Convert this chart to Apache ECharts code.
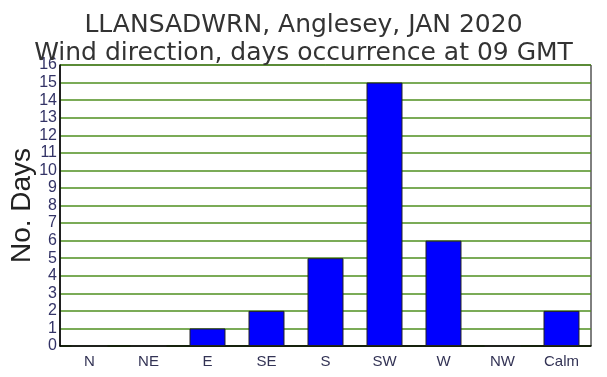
<!DOCTYPE html>
<html>
<head>
<meta charset="utf-8">
<script src="https://cdn.jsdelivr.net/npm/echarts@6/dist/echarts.min.js"></script>
<style>
  html, body { margin: 0; padding: 0; background: #fff; }
  #chart { width: 607px; height: 377px; }
</style>
</head>
<body>
<div id="chart"></div>
<script>
// wind direction categories and counts
var directions = ["N", "NE", "E", "SE", "S", "SW", "W", "NW", "Calm"];
var days = [0, 0, 1, 2, 5, 15, 6, 0, 2];
var titleLines = ["LLANSADWRN, Anglesey, JAN 2020", "Wind direction, days occurrence at 09 GMT"];

var chart = echarts.init(document.getElementById("chart"));
var option = {
  animation: false,
  title: {
    text: titleLines.join("\n"),
    left: "center",
    top: 6,
    textStyle: {
      fontFamily: "DejaVu Sans",
      fontWeight: "normal",
      fontSize: 25,
      lineHeight: 28,
      color: "#333333",
    },
  },
  grid: {
    left: 60,
    right: 16,
    top: 65,
    bottom: 31,
    outerBoundsMode: "none",
    containLabel: false,
    show: true,
    borderColor: "#000",
    borderWidth: 1,
  },
  xAxis: {
    type: "category",
    data: directions,
    axisLine: { lineStyle: { color: "#000", width: 1.5 } },
    axisTick: { show: false },
    axisLabel: {
      fontFamily: "Liberation Sans",
      fontSize: 15,
      color: "#333355",
      margin: 8,
    },
  },
  yAxis: {
    type: "value",
    min: 0,
    max: 16,
    interval: 1,
    name: "No. Days",
    nameLocation: "middle",
    nameGap: 24,
    nameMoveOverlap: false,
    nameTextStyle: {
      fontFamily: "Liberation Sans",
      fontSize: 28,
      color: "#222",
    },
    axisLine: { show: true, lineStyle: { color: "#000", width: 1.5 } },
    axisTick: { show: false },
    axisLabel: {
      fontFamily: "Liberation Sans",
      fontSize: 16,
      color: "#333366",
      margin: 3,
    },
    splitLine: { lineStyle: { color: "#4f8f1f", width: 1.5 } },
  },
  series: [
    {
      type: "bar",
      data: days,
      barWidth: "61%",
      itemStyle: {
        color: "#0000ff",
        borderColor: "#222",
        borderWidth: 1,
      },
    },
  ],
};
chart.setOption(option);
</script>
</body>
</html>
